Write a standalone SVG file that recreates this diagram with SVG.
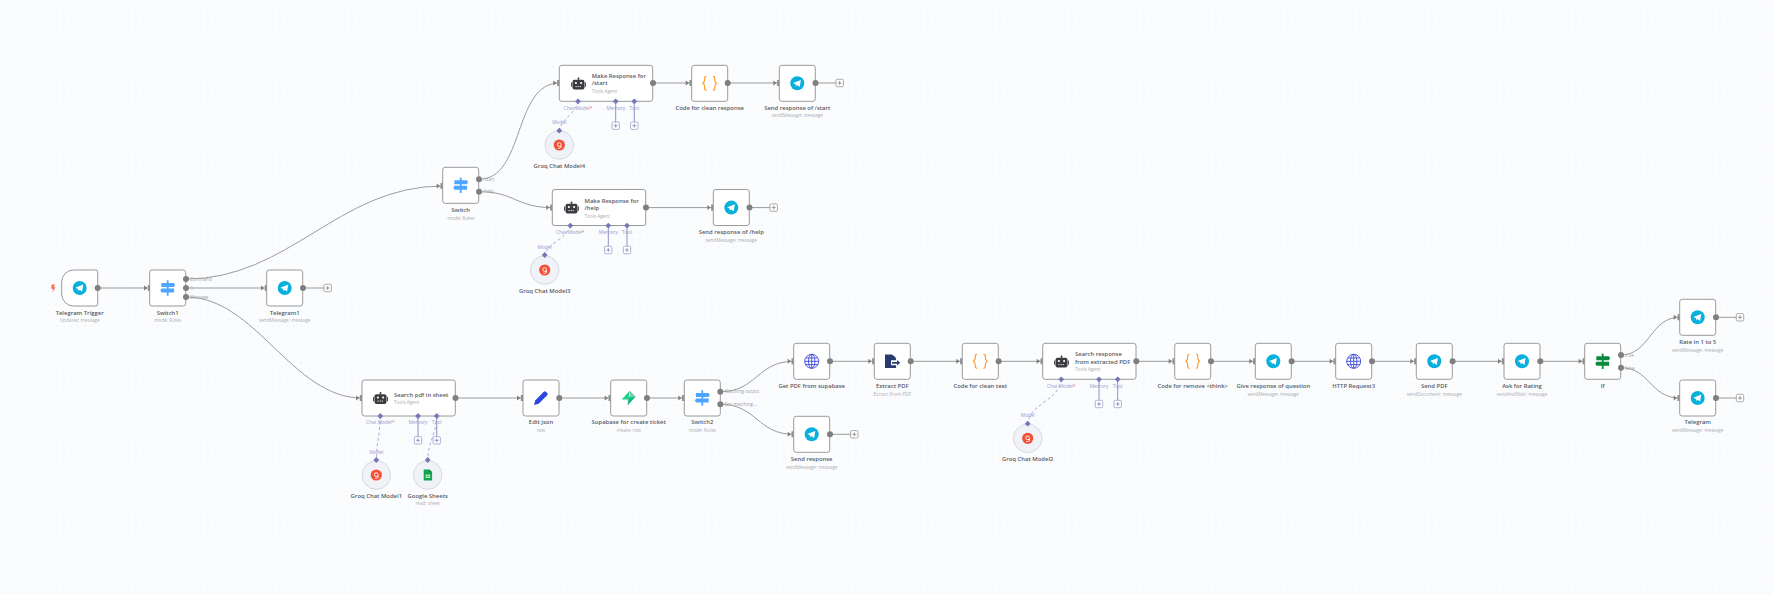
<svg xmlns="http://www.w3.org/2000/svg" width="1773" height="595" viewBox="0 0 1773 595">
<style>
text{font-family:"Open Sans","Liberation Sans",sans-serif;dominant-baseline:central}
.b{fill:#fff;stroke:#8f8f8f;stroke-width:.9}
.c{fill:#f1f2f7;stroke:#cfd0dc;stroke-width:.8}
.t{font-size:5.9px;font-weight:600;fill:#5a5a5f;text-anchor:middle}
.a{font-size:5.9px;font-weight:600;fill:#5a5a5f}
.s{font-size:4.7px;fill:#aeaeb4;text-anchor:middle}
.as{font-size:4.7px;fill:#aeaeb4}
.o{font-size:4.5px;fill:#a0a0a6}
.v{font-size:4.9px;fill:#9a9bcc;text-anchor:middle}
.e{fill:none;stroke:#9b9b9b;stroke-width:1;marker-end:url(#arr)}
.l{fill:none;stroke:#9b9b9b;stroke-width:1}
.st{fill:none;stroke:#9091c6;stroke-width:1}
.d{fill:none;stroke:#a9aade;stroke-width:1;stroke-dasharray:3 2.5}
.pt{fill:#7f7f7f}
.dm{fill:#7677b6}
</style>
<defs>
<pattern id="dots" width="7.2" height="7.2" patternUnits="userSpaceOnUse" x="2.5" y="-1.7"><circle cx="3.6" cy="3.6" r=".5" fill="#dfe1e8"/></pattern>
<marker id="arr" markerUnits="userSpaceOnUse" markerWidth="7" markerHeight="8" refX="6" refY="4" orient="auto" overflow="visible"><path d="M0 1.5L3.4 4L0 6.5Z" fill="#7f7f7f"/><rect x="3.8" y="1" width="2.2" height="6" fill="#8f8f8f"/></marker>
<g id="pg"><rect x="-3.7" y="-3.7" width="7.4" height="7.4" rx="1.2" fill="#fff" stroke="#8a8a8a" stroke-width=".7"/><path d="M-2 0H2M0-2V2" stroke="#777" stroke-width=".7"/></g>
<g id="pv"><rect x="-3.7" y="-3.7" width="7.4" height="7.4" rx="1.2" fill="#fff" stroke="#8f90c6" stroke-width=".7"/><path d="M-2 0H2M0-2V2" stroke="#7677b6" stroke-width=".7"/></g>
<g id="tg"><circle r="7" fill="#08b0de"/><path d="M-4.3-.2L3.6-3.4L2.4 3.6L-.2 1.8L-1.4 3L-1.7 1Z" fill="#fff"/></g>
<g id="sw"><path d="M-.9-7.7H.9V7.7H-.9Z" fill="#4da6ff"/><path d="M-6.4-5H6.2L7.4-3L6.2-1H-6.4Z" fill="#4da6ff"/><path d="M-6.2.4H6.4V4.4H-6.2L-7.4 2.4Z" fill="#4da6ff"/></g>
<g id="ifi"><path d="M-.9-7.7H.9V7.7H-.9Z" fill="#0b8a3e"/><path d="M-6.4-5H6.2L7.4-3L6.2-1H-6.4Z" fill="#0b8a3e"/><path d="M-6.2.4H6.4V4.4H-6.2L-7.4 2.4Z" fill="#0b8a3e"/></g>
<g id="bot"><rect x="-6" y="-4.2" width="12" height="9.6" rx="2" fill="#3b3b40"/><rect x="-7.4" y="-1.5" width="1" height="4.2" fill="#3b3b40"/><rect x="6.4" y="-1.5" width="1" height="4.2" fill="#3b3b40"/><circle cy="-5.6" r="1" fill="#3b3b40"/><rect x="-.4" y="-5.4" width=".8" height="1.6" fill="#3b3b40"/><circle cx="-2.6" cy="-1" r="1.1" fill="#fff"/><circle cx="2.6" cy="-1" r="1.1" fill="#fff"/><path d="M-3 2.6H3" stroke="#fff" stroke-width=".9" stroke-dasharray="1.2 .9"/></g>
<g id="br"><path d="M-3.2-7C-5.2-7-5-5.6-5-4S-5-1-6.8 0C-5 1-5 2.4-5 4S-5.2 7-3.2 7M3.2-7C5.2-7 5-5.6 5-4S5-1 6.8 0C5 1 5 2.4 5 4S5.2 7 3.2 7" fill="none" stroke="#ff9a2e" stroke-width="1.2"/></g>
<g id="gl" fill="none" stroke="#3d48e0" stroke-width=".9"><circle r="7"/><ellipse rx="3.2" ry="7"/><path d="M-7 0H7M-6-3.3H6M-6 3.3H6M0-7V7"/></g>
<g id="pdf"><path d="M-7.3-6.8H-.5L3.8-2.6V-1H-1.2V4H3.8V6.8H-7.3Z" fill="#2b3a6e"/><path d="M-.2 .6H4.8V-1.4L7.8 1.4L4.8 4.2V2.4H-.2ZM.2-6.6L3.8-3.2H.2Z" fill="#2b3a6e"/></g>
<g id="pen"><path d="M-7 7L-5.8 2.4L2.8-6.2C3.5-6.9 4.2-6.9 4.9-6.2L6.2-4.9C6.9-4.2 6.9-3.5 6.2-2.8L-2.4 5.8Z" fill="#2c46e0"/></g>
<g id="sb"><path d="M1-7.2L-7 1.6H0L-1 7.2L7-1.6H0Z" fill="#1ccf8a"/><path d="M1-7.2V-1.6H7L-1 7.2V1.6H-1L7-1.6Z" fill="#12a06a" opacity=".55"/></g>
<g id="gq"><circle r="5.6" fill="#f55036"/><path d="M1.7 3V-.5A1.8 1.8 0 1 0-.1 1.3H1.7M-1.4 3.2H1" fill="none" stroke="#fff" stroke-width=".9"/></g>
<g id="gs"><path d="M-4-5.6H1.6L4.4-2.8V5.6H-4Z" fill="#12a64f"/><path d="M1.6-5.6V-2.8H4.4Z" fill="#0b7a3a"/><rect x="-2" y="-.4" width="4.4" height="3.4" fill="#dff5e7"/><path d="M.2-.4V3M-2 1.3H2.4" stroke="#12a64f" stroke-width=".6"/></g>
<path id="dmd" d="M0-2.9L2.9 0L0 2.9L-2.9 0Z"/>
</defs>
<rect width="1773" height="595" fill="#fbfcfe"/>
<rect width="1773" height="595" fill="url(#dots)"/>

<g id="connectors">
<path class="e" d="M98 288H150"/>
<path class="e" d="M186 279C290 279 338 186 442.7 186"/>
<path class="e" d="M186 288H267"/>
<path class="l" d="M303 288H324"/>
<path class="e" d="M186 297C256 297 292 398 362 398"/>
<path class="e" d="M479 179.3C525 179.3 513 83 559.3 83"/>
<path class="e" d="M479 191.7C515 191.7 516 207.6 552.3 207.6"/>
<path class="e" d="M652.7 83H691.7"/>
<path class="e" d="M727.3 83H779.3"/>
<path class="l" d="M815.3 83H836"/>
<path class="e" d="M645.7 207.6H713.3"/>
<path class="l" d="M749.3 207.6H770"/>
<path class="e" d="M455.3 398H523"/>
<path class="e" d="M559 398H610.7"/>
<path class="e" d="M646.7 398H684.3"/>
<path class="e" d="M720.3 391.7C757 391.7 757 361.3 793.7 361.3"/>
<path class="e" d="M720.3 404.3C757 404.3 757 434.3 793.7 434.3"/>
<path class="l" d="M829.7 434.3H850.6"/>
<path class="e" d="M829.7 361.3H874.3"/>
<path class="e" d="M910.3 361.3H962.3"/>
<path class="e" d="M998.3 361.3H1042.7"/>
<path class="e" d="M1136 361.3H1174.7"/>
<path class="e" d="M1210.7 361.3H1255.3"/>
<path class="e" d="M1291.3 361.3H1335.7"/>
<path class="e" d="M1371.7 361.3H1416.3"/>
<path class="e" d="M1452.3 361.3H1504"/>
<path class="e" d="M1540 361.3H1584.7"/>
<path class="e" d="M1620.7 355C1650 355 1650 317.3 1679.7 317.3"/>
<path class="e" d="M1620.7 367.7C1650 367.7 1650 398 1679.7 398"/>
<path class="l" d="M1715.7 317.3H1736.3"/>
<path class="l" d="M1715.7 398H1736.3"/>
<path class="st" d="M615.7 101.3V122M634.3 101.3V122M608.3 225.6V246.3M627 225.6V246.3M418 416V436.6M1099 379.3V400.3M1117.7 379.3V400.3"/>
<path class="st" d="M436.7 416V436.6"/>
<path class="d" d="M578 101.3C575 115 562 118 559.3 130.7"/>
<path class="d" d="M570.3 225.6C566 240 548 242 544.7 255"/>
<path class="d" d="M380.3 416C380 435 376.6 442 376.3 460"/>
<path class="d" d="M436.7 416C436 435 428 442 427.7 460"/>
<path class="d" d="M1061.3 379.3C1058 402 1031 402 1027.7 423.7"/>
</g>

<g id="n-trigger"><path class="b" d="M73.7 270H95.7A2 2 0 0 1 97.7 272V304A2 2 0 0 1 95.7 306H73.7A12 12 0 0 1 61.7 294V282A12 12 0 0 1 73.7 270Z"/><use href="#tg" x="79.7" y="288"/><path d="M51.5 284.5H55L53.8 287.2H55.6L52.3 292.5L53 288.7H51.2Z" fill="#ff6d5a"/><circle class="pt" cx="97.7" cy="288" r="3"/><text class="t" x="79.7" y="313">Telegram Trigger</text><text class="s" x="79.7" y="320">Updates: message</text></g>

<g id="n-switch1"><rect class="b" x="149.7" y="270" width="36" height="36" rx="2.5"/><use href="#sw" x="167.7" y="288"/><circle class="pt" cx="186" cy="279" r="3"/><circle class="pt" cx="186" cy="288" r="3"/><circle class="pt" cx="186" cy="297" r="3"/><text class="o" x="190" y="279">Command</text><text class="o" x="190.5" y="288">1</text><text class="o" x="190" y="297">Message</text><text class="t" x="167.7" y="313">Switch1</text><text class="s" x="167.7" y="320">mode: Rules</text></g>

<g id="n-telegram1"><rect class="b" x="266.7" y="270" width="36" height="36" rx="2.5"/><use href="#tg" x="284.7" y="288"/><circle class="pt" cx="303" cy="288" r="3"/><use href="#pg" x="327.7" y="288"/><text class="t" x="284.7" y="313">Telegram1</text><text class="s" x="284.7" y="320">sendMessage: message</text></g>

<g id="n-switch"><rect class="b" x="442.7" y="167.3" width="36" height="36" rx="2.5"/><use href="#sw" x="460.7" y="185.3"/><circle class="pt" cx="479" cy="179.3" r="3"/><circle class="pt" cx="479" cy="191.7" r="3"/><text class="o" x="483" y="179.3">/start</text><text class="o" x="483" y="191">/help</text><text class="t" x="460.7" y="210">Switch</text><text class="s" x="460.7" y="218">mode: Rules</text></g>

<g id="n-agent-start"><rect class="b" x="559.3" y="65.3" width="93.4" height="36" rx="2.5"/><use href="#bot" x="578.5" y="84"/><text class="a" x="591.7" y="76">Make Response for</text><text class="a" x="591.7" y="83">/start</text><text class="as" x="591.7" y="91">Tools Agent</text><circle class="pt" cx="653" cy="83" r="3"/><use href="#dmd" class="dm" x="578" y="101.3"/><use href="#dmd" class="dm" x="615.7" y="101.3"/><use href="#dmd" class="dm" x="634.3" y="101.3"/><text class="v" x="578" y="108">Chat Model<tspan fill="#ff6d5a">*</tspan></text><text class="v" x="615.7" y="108">Memory</text><text class="v" x="634.3" y="108">Tool</text><use href="#pv" x="615.7" y="125.7"/><use href="#pv" x="634.3" y="125.7"/></g>

<g id="n-code-clean"><rect class="b" x="691.7" y="65.3" width="36" height="36" rx="2.5"/><use href="#br" x="709.7" y="83.3"/><circle class="pt" cx="727.7" cy="83" r="3"/><text class="t" x="709.7" y="108">Code for clean response</text></g>

<g id="n-send-start"><rect class="b" x="779.3" y="65.3" width="36" height="36" rx="2.5"/><use href="#tg" x="797.3" y="83.3"/><circle class="pt" cx="815.5" cy="83" r="3"/><use href="#pg" x="839.7" y="83"/><text class="t" x="797.3" y="108">Send response of /start</text><text class="s" x="797.3" y="115">sendMessage: message</text></g>

<g id="n-groq4"><circle class="c" cx="559.3" cy="145" r="14.3"/><use href="#gq" x="559.3" y="145"/><use href="#dmd" class="dm" x="559.3" y="130.7"/><text class="v" x="559.3" y="122">Model</text><text class="t" x="559.3" y="166">Groq Chat Model4</text></g>

<g id="n-agent-help"><rect class="b" x="552.3" y="189.5" width="93.4" height="36" rx="2.5"/><use href="#bot" x="571.5" y="208"/><text class="a" x="584.5" y="201">Make Response for</text><text class="a" x="584.5" y="208">/help</text><text class="as" x="584.5" y="216">Tools Agent</text><circle class="pt" cx="646" cy="207.6" r="3"/><use href="#dmd" class="dm" x="570.3" y="225.6"/><use href="#dmd" class="dm" x="608.3" y="225.6"/><use href="#dmd" class="dm" x="627" y="225.6"/><text class="v" x="570.3" y="232">Chat Model<tspan fill="#ff6d5a">*</tspan></text><text class="v" x="608.3" y="232">Memory</text><text class="v" x="627" y="232">Tool</text><use href="#pv" x="608.3" y="250"/><use href="#pv" x="627" y="250"/></g>

<g id="n-send-help"><rect class="b" x="713.3" y="189.5" width="36" height="36" rx="2.5"/><use href="#tg" x="731.3" y="207.6"/><circle class="pt" cx="749.5" cy="207.6" r="3"/><use href="#pg" x="773.7" y="207.6"/><text class="t" x="731.3" y="232">Send response of /help</text><text class="s" x="731.3" y="240">sendMessage: message</text></g>

<g id="n-groq3"><circle class="c" cx="544.7" cy="270" r="14.3"/><use href="#gq" x="544.7" y="270"/><use href="#dmd" class="dm" x="544.7" y="255"/><text class="v" x="544.7" y="247">Model</text><text class="t" x="544.7" y="291">Groq Chat Model3</text></g>

<g id="n-agent-search"><rect class="b" x="362" y="380" width="93.3" height="36" rx="2.5"/><use href="#bot" x="380.5" y="398.5"/><text class="a" x="394" y="395">Search pdf in sheet</text><text class="as" x="394" y="402">Tools Agent</text><circle class="pt" cx="455.5" cy="398" r="3"/><use href="#dmd" class="dm" x="380.3" y="416"/><use href="#dmd" class="dm" x="418" y="416"/><use href="#dmd" class="dm" x="436.7" y="416"/><text class="v" x="380.3" y="422">Chat Model<tspan fill="#ff6d5a">*</tspan></text><text class="v" x="418" y="422">Memory</text><text class="v" x="436.7" y="422">Tool</text><use href="#pv" x="418" y="440.3"/><use href="#pv" x="436.7" y="440.3"/></g>

<g id="n-groq1"><circle class="c" cx="376.3" cy="475" r="14.3"/><use href="#gq" x="376.3" y="475"/><use href="#dmd" class="dm" x="376.3" y="460"/><text class="v" x="376.3" y="452">Model</text><text class="t" x="376.3" y="496">Groq Chat Model1</text></g>

<g id="n-sheets"><circle class="c" cx="427.7" cy="475" r="14.3"/><use href="#gs" x="427.7" y="475"/><use href="#dmd" class="dm" x="427.7" y="460"/><text class="t" x="427.7" y="496">Google Sheets</text><text class="s" x="427.7" y="503">read: sheet</text></g>

<g id="n-edit"><rect class="b" x="523" y="380" width="36" height="36" rx="2.5"/><use href="#pen" x="541" y="398"/><circle class="pt" cx="559.3" cy="398" r="3"/><text class="t" x="541" y="422">Edit json</text><text class="s" x="541" y="430">raw</text></g>

<g id="n-supabase"><rect class="b" x="610.7" y="380" width="36" height="36" rx="2.5"/><use href="#sb" x="628.7" y="398"/><circle class="pt" cx="647" cy="398" r="3"/><text class="t" x="628.7" y="422">Supabase for create ticket</text><text class="s" x="628.7" y="430">create: row</text></g>

<g id="n-switch2"><rect class="b" x="684.3" y="380" width="36" height="36" rx="2.5"/><use href="#sw" x="702.3" y="398"/><circle class="pt" cx="720.3" cy="391.7" r="3"/><circle class="pt" cx="720.3" cy="404.3" r="3"/><text class="o" x="724.5" y="391.3">Matching output</text><text class="o" x="724.5" y="404">Not matching ...</text><text class="t" x="702.3" y="422">Switch2</text><text class="s" x="702.3" y="430">mode: Rules</text></g>

<g id="n-getpdf"><rect class="b" x="793.7" y="343.3" width="36" height="36" rx="2.5"/><use href="#gl" x="811.7" y="361.3"/><circle class="pt" cx="830" cy="361.3" r="3"/><text class="t" x="811.7" y="386">Get PDF from supabase</text></g>

<g id="n-send-response"><rect class="b" x="793.7" y="416.3" width="36" height="36" rx="2.5"/><use href="#tg" x="811.7" y="434.3"/><circle class="pt" cx="830" cy="434.3" r="3"/><use href="#pg" x="854.3" y="434.3"/><text class="t" x="811.7" y="459">Send response</text><text class="s" x="811.7" y="467">sendMessage: message</text></g>

<g id="n-extract"><rect class="b" x="874.3" y="343.3" width="36" height="36" rx="2.5"/><use href="#pdf" x="892.3" y="361.3"/><circle class="pt" cx="910.7" cy="361.3" r="3"/><text class="t" x="892.3" y="386">Extract PDF</text><text class="s" x="892.3" y="394">Extract From PDF</text></g>

<g id="n-code-text"><rect class="b" x="962.3" y="343.3" width="36" height="36" rx="2.5"/><use href="#br" x="980.3" y="361.3"/><circle class="pt" cx="998.6" cy="361.3" r="3"/><text class="t" x="980.3" y="386">Code for clean text</text></g>

<g id="n-agent-pdf"><rect class="b" x="1042.7" y="343.3" width="93.3" height="36" rx="2.5"/><use href="#bot" x="1061.5" y="362"/><text class="a" x="1075" y="354">Search response</text><text class="a" x="1075" y="362">from extracted PDF</text><text class="as" x="1075" y="369">Tools Agent</text><circle class="pt" cx="1136.3" cy="361.3" r="3"/><use href="#dmd" class="dm" x="1061.3" y="379.3"/><use href="#dmd" class="dm" x="1099" y="379.3"/><use href="#dmd" class="dm" x="1117.7" y="379.3"/><text class="v" x="1061.3" y="386">Chat Model<tspan fill="#ff6d5a">*</tspan></text><text class="v" x="1099" y="386">Memory</text><text class="v" x="1117.7" y="386">Tool</text><use href="#pv" x="1099" y="404"/><use href="#pv" x="1117.7" y="404"/></g>

<g id="n-groq2"><circle class="c" cx="1027.7" cy="438.3" r="14.3"/><use href="#gq" x="1027.7" y="438.3"/><use href="#dmd" class="dm" x="1027.7" y="423.7"/><text class="v" x="1027.7" y="415">Model</text><text class="t" x="1027.7" y="459">Groq Chat Model2</text></g>

<g id="n-code-think"><rect class="b" x="1174.7" y="343.3" width="36" height="36" rx="2.5"/><use href="#br" x="1192.7" y="361.3"/><circle class="pt" cx="1211" cy="361.3" r="3"/><text class="t" x="1192.7" y="386">Code for remove &lt;think&gt;</text></g>

<g id="n-give"><rect class="b" x="1255.3" y="343.3" width="36" height="36" rx="2.5"/><use href="#tg" x="1273.3" y="361.3"/><circle class="pt" cx="1291.6" cy="361.3" r="3"/><text class="t" x="1273.3" y="386">Give response of question</text><text class="s" x="1273.3" y="394">sendMessage: message</text></g>

<g id="n-http"><rect class="b" x="1335.7" y="343.3" width="36" height="36" rx="2.5"/><use href="#gl" x="1353.7" y="361.3"/><circle class="pt" cx="1372" cy="361.3" r="3"/><text class="t" x="1353.7" y="386">HTTP Request3</text></g>

<g id="n-sendpdf"><rect class="b" x="1416.3" y="343.3" width="36" height="36" rx="2.5"/><use href="#tg" x="1434.3" y="361.3"/><circle class="pt" cx="1452.6" cy="361.3" r="3"/><text class="t" x="1434.3" y="386">Send PDF</text><text class="s" x="1434.3" y="394">sendDocument: message</text></g>

<g id="n-ask"><rect class="b" x="1504" y="343.3" width="36" height="36" rx="2.5"/><use href="#tg" x="1522" y="361.3"/><circle class="pt" cx="1540.3" cy="361.3" r="3"/><text class="t" x="1522" y="386">Ask for Rating</text><text class="s" x="1522" y="394">sendAndWait: message</text></g>

<g id="n-if"><rect class="b" x="1584.7" y="343.3" width="36" height="36" rx="2.5"/><use href="#ifi" x="1602.7" y="361.3"/><circle class="pt" cx="1621" cy="355" r="3"/><circle class="pt" cx="1621" cy="367.7" r="3"/><text class="o" x="1625" y="355">true</text><text class="o" x="1625" y="367.5">false</text><text class="t" x="1602.7" y="386">If</text></g>

<g id="n-rate"><rect class="b" x="1679.7" y="299.3" width="36" height="36" rx="2.5"/><use href="#tg" x="1697.7" y="317.3"/><circle class="pt" cx="1716" cy="317.3" r="3"/><use href="#pg" x="1740" y="317.3"/><text class="t" x="1697.7" y="342">Rate in 1 to 5</text><text class="s" x="1697.7" y="350">sendMessage: message</text></g>

<g id="n-telegram"><rect class="b" x="1679.7" y="380" width="36" height="36" rx="2.5"/><use href="#tg" x="1697.7" y="398"/><circle class="pt" cx="1716" cy="398" r="3"/><use href="#pg" x="1740" y="398"/><text class="t" x="1697.7" y="422">Telegram</text><text class="s" x="1697.7" y="430">sendMessage: message</text></g>
</svg>
